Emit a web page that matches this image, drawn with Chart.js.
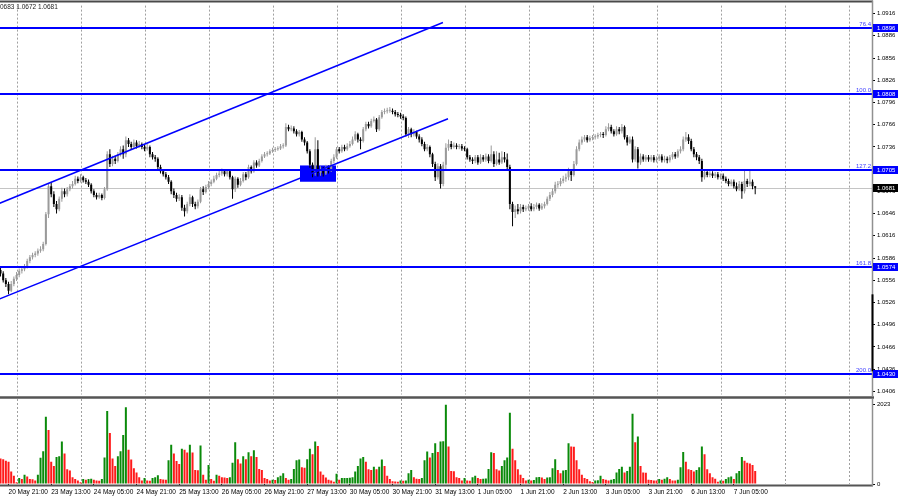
<!DOCTYPE html>
<html><head><meta charset="utf-8">
<script src="https://cdn.jsdelivr.net/npm/chart.js@4.4.0/dist/chart.umd.min.js"></script>
<style>
html,body{margin:0;padding:0;background:#fff;overflow:hidden;}
#wrap{position:relative;width:900px;height:499px;background:#fff;}
#c1{position:absolute;left:0;top:0;width:900px;height:400px;}
#c2{position:absolute;left:0;top:399px;width:900px;height:100px;}
</style></head><body>
<div id="wrap"><canvas id="c1" width="900" height="400"></canvas><canvas id="c2" width="900" height="100"></canvas></div>
<script>
// ---------- DATA (hourly bars) ----------
const opens = [
1.0570,1.0565,1.0556,1.0551,1.0542,1.0551,1.0558,1.0563,1.0569,1.0571,
1.0574,1.0582,1.0587,1.0590,1.0592,1.0596,1.0598,1.0605,1.0645,1.0683,
1.0672,1.0659,1.0652,1.0666,1.0676,1.0672,1.0679,1.0683,1.0686,1.0693,
1.0690,1.0695,1.0691,1.0689,1.0685,1.0676,1.0671,1.0668,1.0671,1.0667,
1.0679,1.0726,1.0713,1.0720,1.0717,1.0726,1.0733,1.0726,1.0745,1.0740,
1.0736,1.0742,1.0737,1.0740,1.0736,1.0733,1.0736,1.0726,1.0722,1.0720,
1.0709,1.0703,1.0699,1.0695,1.0689,1.0676,1.0671,1.0666,1.0668,1.0654,
1.0649,1.0659,1.0668,1.0659,1.0656,1.0662,1.0679,1.0675,1.0682,1.0686,
1.0689,1.0693,1.0698,1.0700,1.0703,1.0699,1.0703,1.0695,1.0679,1.0693,
1.0685,1.0690,1.0699,1.0695,1.0709,1.0703,1.0715,1.0711,1.0717,1.0723,
1.0726,1.0727,1.0730,1.0732,1.0733,1.0734,1.0737,1.0738,1.0763,1.0760,
1.0761,1.0757,1.0753,1.0756,1.0746,1.0742,1.0730,1.0712,1.0700,1.0733,
1.0701,1.0706,1.0700,1.0708,1.0704,1.0717,1.0722,1.0733,1.0730,1.0736,
1.0733,1.0737,1.0740,1.0746,1.0753,1.0746,1.0744,1.0760,1.0767,1.0764,
1.0771,1.0773,1.0760,1.0776,1.0783,1.0784,1.0785,1.0785,1.0783,1.0780,
1.0779,1.0777,1.0775,1.0753,1.0760,1.0753,1.0756,1.0750,1.0746,1.0740,
1.0733,1.0736,1.0726,1.0713,1.0695,1.0710,1.0686,1.0712,1.0735,1.0740,
1.0736,1.0738,1.0736,1.0737,1.0734,1.0733,1.0722,1.0719,1.0717,1.0722,
1.0715,1.0722,1.0719,1.0723,1.0717,1.0726,1.0713,1.0719,1.0715,1.0722,
1.0719,1.0709,1.0659,1.0648,1.0652,1.0649,1.0655,1.0652,1.0653,1.0656,
1.0652,1.0655,1.0658,1.0653,1.0656,1.0659,1.0666,1.0671,1.0676,1.0685,
1.0686,1.0690,1.0693,1.0695,1.0703,1.0698,1.0713,1.0733,1.0742,1.0746,
1.0749,1.0745,1.0748,1.0749,1.0750,1.0752,1.0753,1.0752,1.0760,1.0763,
1.0757,1.0753,1.0760,1.0757,1.0763,1.0749,1.0742,1.0746,1.0719,1.0733,
1.0715,1.0723,1.0719,1.0722,1.0719,1.0722,1.0718,1.0720,1.0723,1.0718,
1.0720,1.0718,1.0722,1.0726,1.0723,1.0730,1.0733,1.0746,1.0749,1.0744,
1.0733,1.0726,1.0722,1.0717,1.0695,1.0702,1.0698,1.0700,1.0697,1.0699,
1.0695,1.0697,1.0693,1.0690,1.0686,1.0689,1.0683,1.0679,1.0686,1.0676,
1.0690,1.0686,1.0689,1.0683];
const highs = [
1.0574,1.0568,1.0559,1.0554,1.0555,1.0561,1.0567,1.0572,1.0575,1.0578,
1.0585,1.0590,1.0593,1.0595,1.0599,1.0602,1.0608,1.0648,1.0687,1.0688,
1.0676,1.0663,1.0669,1.0681,1.0680,1.0682,1.0686,1.0690,1.0697,1.0696,
1.0699,1.0697,1.0694,1.0692,1.0687,1.0679,1.0674,1.0674,1.0673,1.0682,
1.0730,1.0733,1.0724,1.0724,1.0729,1.0737,1.0738,1.0750,1.0748,1.0743,
1.0746,1.0745,1.0744,1.0742,1.0739,1.0740,1.0738,1.0729,1.0725,1.0722,
1.0712,1.0706,1.0702,1.0698,1.0691,1.0680,1.0674,1.0672,1.0671,1.0658,
1.0662,1.0672,1.0670,1.0662,1.0665,1.0682,1.0683,1.0685,1.0690,1.0692,
1.0697,1.0701,1.0704,1.0707,1.0706,1.0706,1.0705,1.0697,1.0696,1.0695,
1.0694,1.0702,1.0702,1.0712,1.0711,1.0718,1.0718,1.0720,1.0726,1.0729,
1.0730,1.0733,1.0735,1.0736,1.0737,1.0740,1.0741,1.0768,1.0766,1.0765,
1.0764,1.0760,1.0759,1.0758,1.0749,1.0744,1.0733,1.0715,1.0749,1.0745,
1.0710,1.0709,1.0712,1.0711,1.0720,1.0726,1.0736,1.0736,1.0739,1.0739,
1.0741,1.0744,1.0750,1.0757,1.0755,1.0749,1.0763,1.0770,1.0770,1.0774,
1.0777,1.0775,1.0779,1.0786,1.0788,1.0789,1.0790,1.0788,1.0786,1.0783,
1.0782,1.0780,1.0777,1.0763,1.0762,1.0760,1.0758,1.0753,1.0749,1.0743,
1.0740,1.0738,1.0728,1.0716,1.0714,1.0713,1.0716,1.0741,1.0746,1.0744,
1.0742,1.0741,1.0740,1.0740,1.0737,1.0735,1.0725,1.0722,1.0725,1.0725,
1.0726,1.0725,1.0727,1.0726,1.0738,1.0730,1.0730,1.0728,1.0730,1.0729,
1.0727,1.0712,1.0662,1.0657,1.0659,1.0659,1.0658,1.0657,1.0659,1.0660,
1.0659,1.0661,1.0660,1.0660,1.0662,1.0669,1.0675,1.0680,1.0689,1.0690,
1.0694,1.0697,1.0700,1.0708,1.0706,1.0717,1.0737,1.0746,1.0750,1.0752,
1.0752,1.0751,1.0752,1.0753,1.0755,1.0756,1.0756,1.0764,1.0768,1.0766,
1.0760,1.0764,1.0763,1.0767,1.0765,1.0752,1.0750,1.0750,1.0737,1.0736,
1.0727,1.0726,1.0725,1.0725,1.0725,1.0725,1.0723,1.0726,1.0726,1.0724,
1.0723,1.0725,1.0729,1.0729,1.0733,1.0737,1.0750,1.0756,1.0753,1.0747,
1.0736,1.0729,1.0725,1.0720,1.0706,1.0705,1.0703,1.0703,1.0702,1.0702,
1.0700,1.0700,1.0696,1.0693,1.0692,1.0692,1.0688,1.0690,1.0689,1.0706,
1.0693,1.0704,1.0692,1.0683];
const lows = [
1.0561,1.0553,1.0547,1.0537,1.0540,1.0548,1.0555,1.0560,1.0565,1.0568,
1.0572,1.0579,1.0584,1.0587,1.0589,1.0593,1.0595,1.0603,1.0640,1.0668,
1.0655,1.0646,1.0649,1.0662,1.0668,1.0669,1.0676,1.0680,1.0684,1.0687,
1.0688,1.0688,1.0686,1.0682,1.0673,1.0668,1.0665,1.0666,1.0664,1.0665,
1.0677,1.0709,1.0710,1.0713,1.0715,1.0723,1.0720,1.0722,1.0736,1.0732,
1.0734,1.0734,1.0735,1.0733,1.0730,1.0731,1.0722,1.0719,1.0716,1.0706,
1.0700,1.0696,1.0692,1.0686,1.0672,1.0667,1.0662,1.0663,1.0650,1.0642,
1.0646,1.0656,1.0655,1.0652,1.0653,1.0660,1.0671,1.0673,1.0679,1.0683,
1.0687,1.0691,1.0695,1.0697,1.0696,1.0696,1.0692,1.0666,1.0675,1.0681,
1.0683,1.0688,1.0691,1.0693,1.0700,1.0701,1.0708,1.0709,1.0715,1.0721,
1.0723,1.0725,1.0728,1.0729,1.0731,1.0732,1.0734,1.0736,1.0757,1.0757,
1.0754,1.0750,1.0750,1.0743,1.0738,1.0727,1.0708,1.0695,1.0697,1.0696,
1.0697,1.0696,1.0698,1.0700,1.0702,1.0714,1.0720,1.0727,1.0728,1.0730,
1.0731,1.0735,1.0738,1.0744,1.0742,1.0733,1.0742,1.0757,1.0761,1.0762,
1.0769,1.0756,1.0758,1.0774,1.0780,1.0781,1.0782,1.0780,1.0777,1.0776,
1.0774,1.0772,1.0750,1.0748,1.0749,1.0750,1.0747,1.0742,1.0737,1.0730,
1.0730,1.0722,1.0709,1.0690,1.0692,1.0680,1.0683,1.0706,1.0731,1.0733,
1.0734,1.0733,1.0733,1.0731,1.0730,1.0719,1.0716,1.0713,1.0714,1.0712,
1.0713,1.0716,1.0716,1.0714,1.0715,1.0709,1.0711,1.0712,1.0713,1.0715,
1.0704,1.0652,1.0629,1.0640,1.0645,1.0646,1.0648,1.0649,1.0650,1.0649,
1.0649,1.0652,1.0650,1.0651,1.0653,1.0657,1.0663,1.0668,1.0673,1.0681,
1.0683,1.0687,1.0689,1.0691,1.0690,1.0696,1.0711,1.0730,1.0739,1.0743,
1.0742,1.0743,1.0745,1.0746,1.0747,1.0749,1.0748,1.0750,1.0757,1.0754,
1.0750,1.0751,1.0753,1.0754,1.0746,1.0738,1.0740,1.0715,1.0716,1.0707,
1.0712,1.0716,1.0716,1.0716,1.0716,1.0715,1.0715,1.0717,1.0715,1.0715,
1.0714,1.0715,1.0719,1.0720,1.0721,1.0727,1.0730,1.0743,1.0740,1.0730,
1.0722,1.0718,1.0713,1.0689,1.0692,1.0695,1.0695,1.0694,1.0694,1.0692,
1.0692,1.0690,1.0687,1.0683,1.0683,1.0680,1.0676,1.0677,1.0666,1.0673,
1.0682,1.0683,1.0679,1.0672];
const closes = [
1.0565,1.0556,1.0551,1.0542,1.0551,1.0558,1.0563,1.0569,1.0571,1.0574,
1.0582,1.0587,1.0590,1.0592,1.0596,1.0598,1.0605,1.0645,1.0683,1.0672,
1.0659,1.0652,1.0666,1.0676,1.0672,1.0679,1.0683,1.0686,1.0693,1.0690,
1.0695,1.0691,1.0689,1.0685,1.0676,1.0671,1.0668,1.0671,1.0667,1.0679,
1.0726,1.0713,1.0720,1.0717,1.0726,1.0733,1.0726,1.0745,1.0740,1.0736,
1.0742,1.0737,1.0740,1.0736,1.0733,1.0736,1.0726,1.0722,1.0720,1.0709,
1.0703,1.0699,1.0695,1.0689,1.0676,1.0671,1.0666,1.0668,1.0654,1.0649,
1.0659,1.0668,1.0659,1.0656,1.0662,1.0679,1.0675,1.0682,1.0686,1.0689,
1.0693,1.0698,1.0700,1.0703,1.0699,1.0703,1.0695,1.0679,1.0693,1.0685,
1.0690,1.0699,1.0695,1.0709,1.0703,1.0715,1.0711,1.0717,1.0723,1.0726,
1.0727,1.0730,1.0732,1.0733,1.0734,1.0737,1.0738,1.0763,1.0760,1.0761,
1.0757,1.0753,1.0756,1.0746,1.0742,1.0730,1.0712,1.0700,1.0733,1.0701,
1.0706,1.0700,1.0708,1.0704,1.0717,1.0722,1.0733,1.0730,1.0736,1.0733,
1.0737,1.0740,1.0746,1.0753,1.0746,1.0744,1.0760,1.0767,1.0764,1.0771,
1.0773,1.0760,1.0776,1.0783,1.0784,1.0785,1.0785,1.0783,1.0780,1.0779,
1.0777,1.0775,1.0753,1.0760,1.0753,1.0756,1.0750,1.0746,1.0740,1.0733,
1.0736,1.0726,1.0713,1.0695,1.0710,1.0686,1.0712,1.0735,1.0740,1.0736,
1.0738,1.0736,1.0737,1.0734,1.0733,1.0722,1.0719,1.0717,1.0722,1.0715,
1.0722,1.0719,1.0723,1.0717,1.0726,1.0713,1.0719,1.0715,1.0722,1.0719,
1.0709,1.0659,1.0648,1.0652,1.0649,1.0655,1.0652,1.0653,1.0656,1.0652,
1.0655,1.0658,1.0653,1.0656,1.0659,1.0666,1.0671,1.0676,1.0685,1.0686,
1.0690,1.0693,1.0695,1.0703,1.0698,1.0713,1.0733,1.0742,1.0746,1.0749,
1.0745,1.0748,1.0749,1.0750,1.0752,1.0753,1.0752,1.0760,1.0763,1.0757,
1.0753,1.0760,1.0757,1.0763,1.0749,1.0742,1.0746,1.0719,1.0733,1.0715,
1.0723,1.0719,1.0722,1.0719,1.0722,1.0718,1.0720,1.0723,1.0718,1.0720,
1.0718,1.0722,1.0726,1.0723,1.0730,1.0733,1.0746,1.0749,1.0744,1.0733,
1.0726,1.0722,1.0717,1.0695,1.0702,1.0698,1.0700,1.0697,1.0699,1.0695,
1.0697,1.0693,1.0690,1.0686,1.0689,1.0683,1.0679,1.0686,1.0676,1.0690,
1.0686,1.0689,1.0683,1.0681];
const volumes = [
650,633,591,566,317,208,42,150,125,233,
192,125,120,92,233,666,833,1716,1374,566,
458,691,708,1083,775,375,342,175,125,92,
42,125,108,125,133,108,92,83,125,675,
1858,1300,650,458,708,833,1250,1958,875,625,
400,292,175,92,150,92,83,150,175,225,
125,117,108,608,1000,775,583,508,900,875,
800,1000,800,358,350,983,233,108,483,125,
83,233,208,175,167,150,175,541,1066,633,
525,708,633,808,708,858,691,383,358,150,
125,92,108,100,175,208,275,150,108,125,
383,608,625,425,416,633,900,758,1083,966,
317,233,167,108,92,58,258,108,150,152,
155,158,175,317,458,650,691,566,375,358,
441,375,441,625,458,208,125,67,62,58,
92,83,92,275,358,175,133,125,150,608,
825,675,791,1041,816,1083,1090,2023,958,333,
325,175,150,92,150,92,83,175,208,150,
125,133,142,383,808,791,375,342,458,608,
675,1816,900,608,375,233,150,92,108,92,
100,175,180,167,125,167,175,400,633,358,
275,342,358,1041,958,950,608,375,233,150,
125,67,50,92,95,208,125,108,92,108,
125,292,383,441,292,333,441,1791,1066,1208,
458,292,285,108,105,92,90,125,108,133,
175,125,92,90,108,425,816,566,375,358,
317,358,425,958,758,375,275,175,133,58,
92,83,125,175,192,125,275,333,691,591,
541,525,483,333];
const timeLabels = ['20 May 21:00','23 May 13:00','24 May 05:00','24 May 21:00','25 May 13:00','26 May 05:00','26 May 21:00','27 May 13:00','30 May 05:00','30 May 21:00','31 May 13:00','1 Jun 05:00','1 Jun 21:00','2 Jun 13:00','3 Jun 05:00','3 Jun 21:00','6 Jun 13:00','7 Jun 05:00'];
const labelBars = [3,19,35,51,67,83,99,115,131,147,163,179,195,211,227,243,259,275];
const dayBars = [6,30,54,78,102,126,150,174,198,222,246,270,294,318];
const priceTicks = [1.0916,1.0886,1.0856,1.0826,1.0796,1.0766,1.0736,1.0706,1.0676,1.0646,1.0616,1.0586,1.0556,1.0526,1.0496,1.0466,1.0436,1.0406];
const levelPrices = [1.0896,1.0808,1.0705,1.0574,1.0430];
const levelNames = ['76.4','100.0','127.2','161.8','200.0'];
const channelUpperBars = [-3,165.9], channelUpperPrices = [1.0656,1.0904];
const channelLowerBars = [-3,167.8], channelLowerPrices = [1.0527,1.0774];
const zoneBars = [112.3,125.8], zonePrices = [1.0711,1.0689];
const axisMarkPrices = [1.0537,1.0433];
const volTicks = [0,2023];

// ---------- view / style ----------
const X_MIN = -0.2, X_MAX = 326.8;
const Y_MIN = 1.04019, Y_MAX = 1.09268;
const FONT = "'Liberation Sans', Arial, sans-serif";
const BULL = '#9a9a9a', BEAR = '#000000', BLUE = '#0000ff';
const GREEN = '#0a8a0a', RED = '#ff1a1a';
const AXIS_X = 873;
Chart.defaults.font.family = FONT;

const idx = closes.map((_, i) => i);
const cColor = idx.map(i => closes[i] >= opens[i] ? BULL : BEAR);
const lastPrice = closes[closes.length - 1];

const mainDecor = {
  id: 'mainDecor',
  beforeDatasetsDraw(chart) {
    const {ctx, chartArea: a, scales: {x, y}} = chart;
    ctx.save();
    ctx.strokeStyle = '#a0a0a0'; ctx.lineWidth = 1; ctx.setLineDash([2, 2]);
    dayBars.forEach(d => {
      const px = Math.round(x.getPixelForValue(d)) + 0.5;
      ctx.beginPath(); ctx.moveTo(px, a.top); ctx.lineTo(px, a.bottom); ctx.stroke();
    });
    ctx.setLineDash([]);
    const cy = Math.round(y.getPixelForValue(lastPrice)) + 0.5;
    ctx.strokeStyle = '#c4c4c4';
    ctx.beginPath(); ctx.moveTo(a.left, cy); ctx.lineTo(a.right, cy); ctx.stroke();
    const bx1 = x.getPixelForValue(zoneBars[0]), bx2 = x.getPixelForValue(zoneBars[1]);
    const by1 = y.getPixelForValue(zonePrices[0]), by2 = y.getPixelForValue(zonePrices[1]);
    ctx.fillStyle = BLUE; ctx.fillRect(bx1, by1, bx2 - bx1, by2 - by1);
    ctx.restore();
  },
  afterDatasetsDraw(chart) {
    const {ctx, chartArea: a, scales: {y}} = chart;
    ctx.save();
    ctx.strokeStyle = BLUE; ctx.lineWidth = 2;
    ctx.font = '6px ' + FONT; ctx.fillStyle = '#3c3cff'; ctx.textAlign = 'right'; ctx.textBaseline = 'bottom';
    levelPrices.forEach((p, k) => {
      const py = Math.round(y.getPixelForValue(p));
      ctx.beginPath(); ctx.moveTo(a.left, py); ctx.lineTo(a.right, py); ctx.stroke();
      ctx.fillText(levelNames[k], a.right - 1, py - 1);
    });
    ctx.restore();
  },
  afterDraw(chart) {
    const {ctx, chartArea: a, scales: {y}} = chart;
    ctx.save();
    // frame
    ctx.strokeStyle = '#4a4a4a'; ctx.lineWidth = 2;
    ctx.beginPath(); ctx.moveTo(0, 1.5); ctx.lineTo(AXIS_X, 1.5); ctx.stroke();
    ctx.lineWidth = 2.5; ctx.strokeStyle = '#555';
    ctx.beginPath(); ctx.moveTo(0, 397.5); ctx.lineTo(AXIS_X + 1, 397.5); ctx.stroke();
    ctx.strokeStyle = '#909090'; ctx.lineWidth = 1.5;
    ctx.beginPath(); ctx.moveTo(AXIS_X - 0.5, 0.5); ctx.lineTo(AXIS_X - 0.5, 396.5); ctx.stroke();
    const m1 = y.getPixelForValue(axisMarkPrices[0]), m2 = y.getPixelForValue(axisMarkPrices[1]);
    ctx.strokeStyle = '#000'; ctx.lineWidth = 2;
    ctx.beginPath(); ctx.moveTo(AXIS_X - 0.5, m1); ctx.lineTo(AXIS_X - 0.5, m2); ctx.stroke();
    // price boxes
    ctx.font = '6px ' + FONT; ctx.textAlign = 'left'; ctx.textBaseline = 'middle';
    const box = (p, bg) => {
      const py = Math.round(y.getPixelForValue(p));
      ctx.fillStyle = bg; ctx.fillRect(AXIS_X, py - 4, 25, 8);
      ctx.fillStyle = '#fff'; ctx.fillText(p.toFixed(4), AXIS_X + 4, py + 0.5);
    };
    levelPrices.forEach(p => box(p, BLUE));
    box(lastPrice, '#000');
    // header (clipped at the left edge)
    const n = closes.length - 1;
    const head = [highs[n], lows[n], closes[n]].map(v => v.toFixed(4)).join(' ');
    ctx.font = '6.5px ' + FONT; ctx.fillStyle = '#222'; ctx.textBaseline = 'middle';
    ctx.fillText(head, -ctx.measureText('1.').width, 7);
    ctx.restore();
  }
};

new Chart(document.getElementById('c1'), {
  type: 'bar',
  data: { datasets: [
    { type: 'line', data: channelUpperBars.map((b, k) => ({x: b, y: channelUpperPrices[k]})), borderColor: BLUE, borderWidth: 1.5, pointRadius: 0, tension: 0, order: 0, clip: 0 },
    { type: 'line', data: channelLowerBars.map((b, k) => ({x: b, y: channelLowerPrices[k]})), borderColor: BLUE, borderWidth: 1.5, pointRadius: 0, tension: 0, order: 0, clip: 0 },
    { data: idx.map(i => ({x: i, y: [opens[i], closes[i]]})), backgroundColor: cColor, barThickness: 2, minBarLength: 1, inflateAmount: 0, borderWidth: 0, grouped: false, order: 1 },
    { data: idx.map(i => ({x: i, y: [lows[i], highs[i]]})), backgroundColor: cColor, barThickness: 1, inflateAmount: 0, borderWidth: 0, grouped: false, order: 2 }
  ]},
  options: {
    responsive: false, animation: false, devicePixelRatio: 1, events: [],
    layout: { padding: { top: 4, bottom: 4, left: 0, right: 0 } },
    plugins: { legend: { display: false }, tooltip: { enabled: false } },
    scales: {
      x: { type: 'linear', min: X_MIN, max: X_MAX, offset: false, display: false },
      y: {
        position: 'right', min: Y_MIN, max: Y_MAX,
        afterBuildTicks: s => { s.ticks = priceTicks.map(v => ({value: v})); },
        afterFit: s => { s.width = 900 - AXIS_X + 1; },
        ticks: { font: { size: 6 }, color: '#000', padding: 2, autoSkip: false, callback: v => Number(v).toFixed(4) },
        grid: { drawOnChartArea: false, drawTicks: true, tickLength: 3, color: '#000' },
        border: { display: false }
      }
    }
  },
  plugins: [mainDecor]
});

const volDecor = {
  id: 'volDecor',
  beforeDatasetsDraw(chart) {
    const {ctx, chartArea: a, scales: {x}} = chart;
    ctx.save();
    ctx.strokeStyle = '#a0a0a0'; ctx.lineWidth = 1; ctx.setLineDash([2, 2]);
    dayBars.forEach(d => {
      const px = Math.round(x.getPixelForValue(d)) + 0.5;
      ctx.beginPath(); ctx.moveTo(px, 0); ctx.lineTo(px, a.bottom); ctx.stroke();
    });
    ctx.restore();
  },
  afterDraw(chart) {
    const {ctx, chartArea: a} = chart;
    ctx.save();
    ctx.strokeStyle = '#555'; ctx.lineWidth = 2;
    ctx.beginPath(); ctx.moveTo(0, a.bottom + 1.5); ctx.lineTo(AXIS_X, a.bottom + 1.5); ctx.stroke();
    ctx.strokeStyle = '#909090'; ctx.lineWidth = 1.5;
    ctx.beginPath(); ctx.moveTo(AXIS_X - 0.5, 0); ctx.lineTo(AXIS_X - 0.5, a.bottom + 2); ctx.stroke();
    ctx.restore();
  }
};

new Chart(document.getElementById('c2'), {
  type: 'bar',
  data: { datasets: [{
    data: idx.map(i => ({x: i, y: volumes[i]})),
    backgroundColor: idx.map(i => (i > 0 && volumes[i] > volumes[i - 1]) ? GREEN : RED),
    barThickness: 2, inflateAmount: 0, borderWidth: 0, grouped: false
  }]},
  options: {
    responsive: false, animation: false, devicePixelRatio: 1, events: [],
    layout: { padding: { top: 4, bottom: 0, left: 0, right: 0 } },
    plugins: { legend: { display: false }, tooltip: { enabled: false } },
    scales: {
      x: {
        type: 'linear', min: X_MIN, max: X_MAX, offset: false,
        afterBuildTicks: s => { s.ticks = labelBars.map(v => ({value: v})); },
        afterFit: s => { s.height = 15; },
        ticks: { align: 'start', maxRotation: 0, minRotation: 0, autoSkip: false, font: { size: 6.5 }, color: '#000', padding: 2,
                 callback: (v, i) => timeLabels[i] },
        grid: { drawOnChartArea: false, drawTicks: true, tickLength: 2, color: '#000', offset: false },
        border: { display: false }
      },
      y: {
        position: 'right', min: volTicks[0], max: volTicks[volTicks.length - 1],
        afterBuildTicks: s => { s.ticks = volTicks.map(v => ({value: v})); },
        afterFit: s => { s.width = 900 - AXIS_X + 1; },
        ticks: { font: { size: 6 }, color: '#000', padding: 2, callback: v => String(v) },
        grid: { drawOnChartArea: false, drawTicks: true, tickLength: 3, color: '#000' },
        border: { display: false }
      }
    }
  },
  plugins: [volDecor]
});
</script>
</body></html>
